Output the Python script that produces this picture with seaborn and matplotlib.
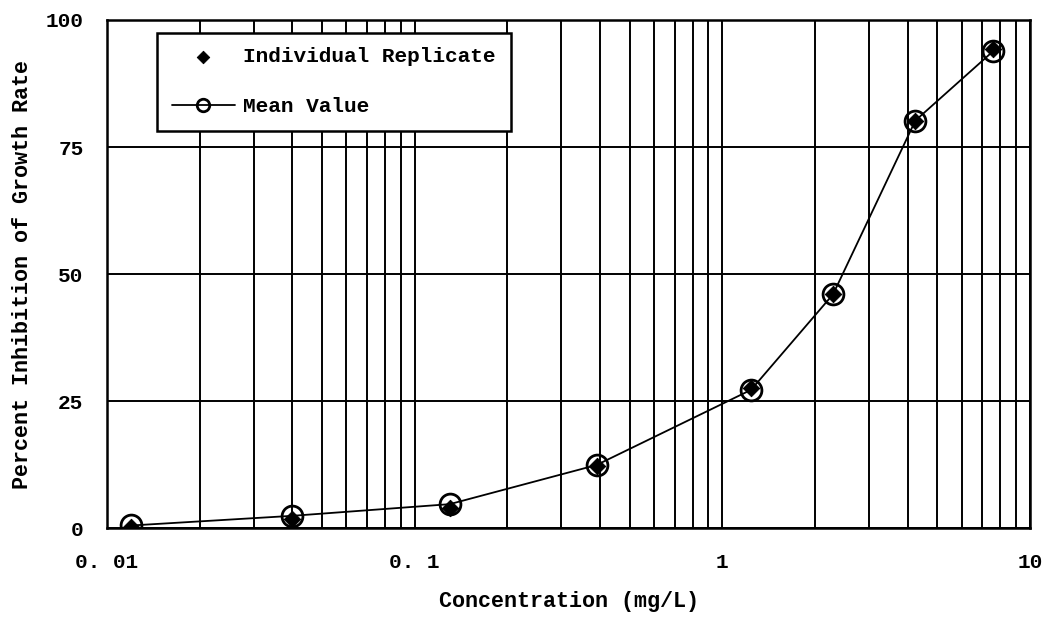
import numpy as np
import pandas as pd
import seaborn as sns
import matplotlib
matplotlib.use("Agg")
import matplotlib.pyplot as plt
from matplotlib.ticker import FixedLocator, NullFormatter, LogLocator

conc = [0.012, 0.040, 0.13, 0.39, 1.24, 2.29, 4.24, 7.6]
mean_inhib = [0.5, 2.4, 4.7, 12.4, 27.2, 46.0, 80.2, 93.9]
rep_conc = [0.012, 0.040, 0.13, 0.39, 1.24, 2.29, 4.24, 7.6]
rep_inhib = [0.3, 1.8, 4.0, 12.2, 27.5, 46.0, 80.2, 94.2]
y_ticks = [0, 25, 50, 75, 100]
x_ticks = [0.01, 0.1, 1, 10]
x_ticklabels = ["0. 01", "0. 1", "1", "10"]

sns.set_theme(style="white")
plt.rcParams['font.family'] = ['Liberation Mono', 'DejaVu Sans Mono']
plt.rcParams['text.color'] = 'black'
plt.rcParams['axes.labelcolor'] = 'black'
plt.rcParams['xtick.color'] = 'black'
plt.rcParams['ytick.color'] = 'black'

fig = plt.figure(figsize=(10.52, 6.17), dpi=100)
ax = fig.add_axes([0.1017, 0.1442, 0.8774, 0.8234])

df_mean = pd.DataFrame({"c": conc, "y": mean_inhib})
df_rep = pd.DataFrame({"c": rep_conc, "y": rep_inhib})

sns.lineplot(data=df_mean, x="c", y="y", ax=ax, color="black", lw=1.3,
             marker="o", markersize=15, markerfacecolor="none",
             markeredgecolor="black", markeredgewidth=2.0, zorder=4,
             label="Mean Value")
sns.scatterplot(data=df_rep, x="c", y="y", ax=ax, color="black", marker="D",
                s=70, edgecolor="black", zorder=5, label="Individual Replicate")

ax.set_xscale("log")
ax.set_xlim(0.01, 10)
ax.set_ylim(0, 100)
ax.xaxis.set_major_locator(FixedLocator(x_ticks))
ax.set_xticklabels(x_ticklabels)
ax.xaxis.set_minor_locator(LogLocator(base=10, subs=np.arange(2, 10)))
ax.xaxis.set_minor_formatter(NullFormatter())
ax.set_yticks(y_ticks)

ax.grid(True, which="both", axis="x", color="black", lw=1.4)
ax.grid(True, which="major", axis="y", color="black", lw=1.4)
ax.set_axisbelow(True)
for s in ax.spines.values():
    s.set_color("black")
    s.set_linewidth(1.8)
ax.tick_params(axis="both", which="both", length=0, labelsize=15.2,
               colors="black")
ax.tick_params(axis="x", pad=18)
ax.tick_params(axis="y", pad=17)
for lab in ax.get_xticklabels() + ax.get_yticklabels():
    lab.set_fontweight("bold")
    lab.set_color("black")

ax.set_xlabel("Concentration (mg/L)", fontsize=15.7, fontweight="bold",
              color="black")
ax.set_ylabel("Percent Inhibition of Growth Rate", fontsize=15.7,
              fontweight="bold", color="black")
ax.xaxis.set_label_coords(0.5, -0.124)
ax.yaxis.set_label_coords(-0.080, 0.5)

handles, labels = ax.get_legend_handles_labels()
order = [labels.index("Individual Replicate"), labels.index("Mean Value")]
leg = ax.legend([handles[i] for i in order], [labels[i] for i in order],
                loc="upper left", bbox_to_anchor=(0.054, 0.975),
                borderaxespad=0, frameon=True, fancybox=False,
                framealpha=1, edgecolor="black",
                prop={"size": 15.2, "weight": "bold"},
                handlelength=3.0, borderpad=0.7, labelspacing=1.45,
                handletextpad=0.4)
leg.get_frame().set_linewidth(1.8)
leg.set_zorder(10)
for t in leg.get_texts():
    t.set_color("black")
for h in leg.legend_handles:
    try:
        h.set_markersize(9)
    except Exception:
        pass
    try:
        h.set_sizes([40])
    except Exception:
        pass

fig.savefig("out.png", dpi=100, facecolor="white")
